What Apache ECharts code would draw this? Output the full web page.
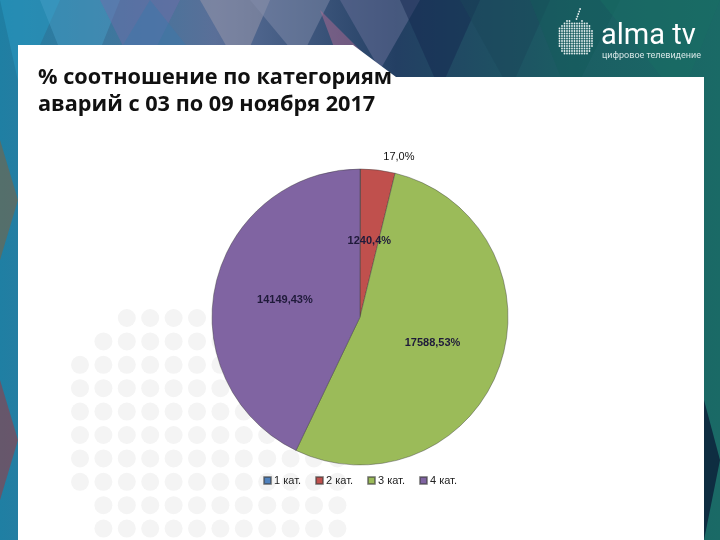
<!DOCTYPE html>
<html><head><meta charset="utf-8">
<script src="https://cdn.jsdelivr.net/npm/echarts@6/dist/echarts.min.js"></script>
<style>html,body{margin:0;padding:0;background:#fff}#c{width:720px;height:540px}</style>
</head><body><div id="c"></div>
<script>
const categories = ['1 кат.', '2 кат.', '3 кат.', '4 кат.'];
const values = [17, 1240, 17588, 14149];
const titleLines = ['% соотношение по категориям', 'аварий с 03 по 09 ноября 2017'];
const sliceColors = ['#4F81BD', '#C0504D', '#9BBB59', '#8064A2'];

const chart = echarts.init(document.getElementById('c'), null, {renderer: 'canvas'});

// decorative background
const g = [];
g.push({type: 'rect', z: -100, shape: {x: 0, y: 0, width: 720, height: 540},
  style: {fill: new echarts.graphic.LinearGradient(0, 0, 1, 0, [
    {offset: 0, color: '#1f7fa3'}, {offset: 0.3, color: '#5a6f98'},
    {offset: 0.55, color: '#233f63'}, {offset: 0.8, color: '#1b5e63'}, {offset: 1, color: '#1a6a66'}])}});
const tris = [
  [[0,0],[60,0],[20,90],'rgba(40,150,190,0.6)'],
  [[40,0],[120,0],[80,100],'rgba(70,160,200,0.45)'],
  [[100,0],[180,0],[140,80],'rgba(110,110,170,0.5)'],
  [[150,0],[230,100],[90,100],'rgba(60,120,170,0.5)'],
  [[200,0],[270,0],[240,70],'rgba(150,150,170,0.55)'],
  [[250,0],[330,0],[300,60],'rgba(130,140,170,0.5)'],
  [[320,10],[400,90],[350,90],'rgba(190,110,150,0.45)'],
  [[340,0],[420,0],[380,70],'rgba(100,110,150,0.55)'],
  [[400,0],[480,0],[440,90],'rgba(20,40,80,0.5)'],
  [[460,0],[550,0],[510,90],'rgba(25,70,90,0.5)'],
  [[530,0],[620,0],[570,100],'rgba(20,90,90,0.45)'],
  [[600,0],[720,0],[680,100],'rgba(25,110,100,0.45)'],
  [[0,140],[18,200],[0,260],'rgba(120,100,70,0.6)'],
  [[0,380],[18,440],[0,500],'rgba(150,60,70,0.6)'],
  [[704,400],[720,460],[704,540],'rgba(10,20,50,0.7)']
];
tris.forEach(t => g.push({type: 'polygon', z: -90, shape: {points: [t[0], t[1], t[2]]}, style: {fill: t[3]}}));
// white panel
g.push({type: 'polygon', z: -50, shape: {points: [[18,45],[353,45],[396,77],[704,77],[704,540],[18,540]]},
  style: {fill: '#ffffff'}});
// dotted pattern
const rowStarts = [2,1,0,0,0,0,0,0,1,1];
const rowEnds = [9,10,11,11,11,11,11,11,11,11];
for (let r = 0; r < rowStarts.length; r++) {
  for (let c = rowStarts[r]; c <= rowEnds[r]; c++) {
    g.push({type: 'circle', z: -40, shape: {cx: 80 + c * 23.4, cy: 318 + r * 23.4, r: 9},
      style: {fill: '#f4f4f4'}});
  }
}
// logo dots (apple)
for (let y = 21; y <= 56; y += 2.5) {
  for (let x = 557; x <= 594; x += 2.5) {
    const e1 = Math.pow((x - 569.5) / 12.5, 2) + Math.pow((y - 38) / 17.5, 2) < 1;
    const e2 = Math.pow((x - 581.5) / 12.5, 2) + Math.pow((y - 38) / 17.5, 2) < 1;
    const notch = Math.hypot(x - 575.5, y - 19) < 4.5;
    if ((e1 || e2) && !notch) {
      g.push({type: 'circle', z: -30, shape: {cx: x, cy: y, r: 0.9}, style: {fill: '#e8f0f0'}});
    }
  }
}
for (let i = 0; i < 5; i++) {
  g.push({type: 'circle', z: -30, shape: {cx: 576.5 + i * 0.9, cy: 19 - i * 2.5, r: 0.9}, style: {fill: '#e8f0f0'}});
}
g.push({type: 'text', z: -20, style: {x: 601, y: 22, text: 'alma tv', fill: '#ffffff',
  font: '400 29px Roboto', textVerticalAlign: 'top'}});
g.push({type: 'text', z: -20, style: {x: 602, y: 51, text: 'цифровое телевидение', fill: '#d6e6e6',
  font: '9px Roboto', textVerticalAlign: 'top'}});

const data = categories.map((n, i) => {
  const item = {name: n, value: values[i], itemStyle: {color: sliceColors[i]}};
  if (i === 0) {
    item.label = {position: 'outside', fontWeight: 'normal', color: '#111'};
    item.labelLine = {show: false, length: 12, length2: 18};
  }
  return item;
});

chart.setOption({
  animation: false,
  graphic: g,
  title: {
    text: titleLines.join('\n'), left: 33, top: 59,
    textStyle: {fontFamily: 'Open Sans', fontWeight: 'bold', fontSize: 21.7, lineHeight: 27.5, color: '#111'}
  },
  legend: {
    data: categories, bottom: 49, left: 'center', icon: 'rect', itemWidth: 7, itemHeight: 7,
    itemGap: 14, textStyle: {fontFamily: 'Liberation Sans', fontSize: 11, color: '#222', padding: [0,0,0,-2]}
  },
  series: [{
    type: 'pie', center: [360, 317], radius: 148, startAngle: 90, clockwise: true,
    avoidLabelOverlap: false,
    itemStyle: {borderColor: 'rgba(60,60,60,0.55)', borderWidth: 0.8},
    label: {
      position: 'inside', fontFamily: 'Liberation Sans', fontSize: 11, fontWeight: 'bold', color: '#1f1a3a',
      formatter: p => p.value + ',' + Math.round(p.percent) + '%'
    },
    labelLine: {show: false},
    data: data
  }]
});
</script></body></html>
